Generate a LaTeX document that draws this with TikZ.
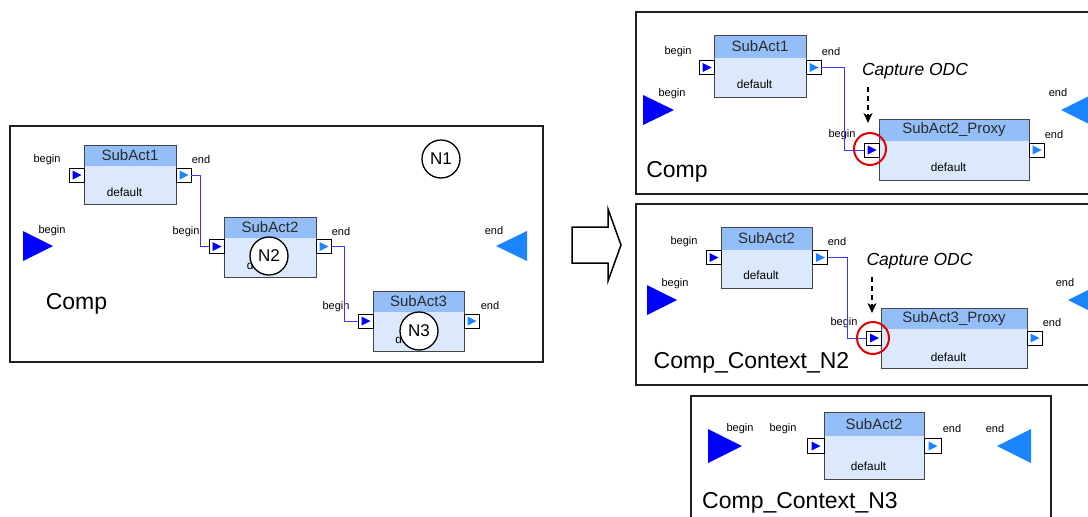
\documentclass[tikz,border=0pt]{standalone}
\usepackage{fontspec}
\setmainfont{Liberation Sans}
\usetikzlibrary{arrows.meta}
\definecolor{hdr}{HTML}{93BEF8}
\definecolor{bdy}{HTML}{DCE9FC}
\definecolor{inblue}{HTML}{0000FF}
\definecolor{outblue}{HTML}{1A85FF}
\definecolor{wireblue}{HTML}{3838FF}
\definecolor{bordergray}{HTML}{454545}
\definecolor{ttlgray}{HTML}{2A2A2A}
\definecolor{hlred}{HTML}{E00000}
\tikzset{
  blk/.style={draw=bordergray, line width=1pt, fill=bdy, inner sep=0pt, rectangle},
  porta/.style={draw=black, line width=0.9pt, fill=white, inner sep=0pt, minimum width=15, minimum height=14},
  lbl/.style={font=\fontsize{11}{11}\selectfont, inner sep=0pt},
  ttl/.style={font=\fontsize{15}{15}\selectfont, text=ttlgray, inner sep=0pt},
  deflt/.style={font=\fontsize{11.8}{11.8}\selectfont, inner sep=0pt},
  bigtxt/.style={font=\fontsize{23}{23}\selectfont, inner sep=0pt},
  capt/.style={font=\fontsize{17.5}{17.5}\selectfont\itshape, inner sep=0pt},
  circ/.style={circle, draw=black, line width=1.3pt, fill=white, minimum size=38, inner sep=0pt, font=\fontsize{17}{17}\selectfont},
  hl/.style={circle, draw=hlred, line width=2pt, minimum size=32, inner sep=0pt},
  wire/.style={draw=wireblue, line width=0.9pt},
  frm/.style={draw=black!88, line width=2pt},
  odc/.style={draw=black, line width=1.4pt, dash pattern=on 5pt off 4pt, -{Stealth[length=10pt,width=9pt,inset=3pt]}},
}
% block: name, x1, y1, x2, y2, header bottom, title, default y
\newcommand{\actblk}[8]{%
  \node[blk, minimum width={#4-#2}, minimum height={#5-#3}] (#1) at ({(#2+#4)/2},{(#3+#5)/2}) {};
  \fill[hdr] (#2,#3) rectangle (#4,#6);
  \draw[bordergray, line width=1pt] (#2,#3) rectangle (#4,#5);
  \node[ttl] (#1t) at ({(#2+#4)/2},{(#3+#6)/2}) {#7};
  \node[deflt] (#1d) at ({(#2+#4)/2-5.5},#8) {default};
}
% port: name, cx, cy, colour, extra options
\newcommand{\prt}[5]{%
  \node[porta, #5] (#1) at (#2,#3) {};
  \fill[#4] ({#2-4},{#3-4.5}) -- ({#2+5},#3) -- ({#2-4},{#3+4.5}) -- cycle;
}
\begin{document}
\begin{tikzpicture}[x=1pt,y=-1pt]
\useasboundingbox (0,0) rectangle (1088,517);
\clip (0,0) rectangle (1088,517);
\fill[white] (0,0) rectangle (1088,517);

% ---------------- left panel ----------------
\draw[frm] (10,126) rectangle (543,362);
\actblk{sa1}{84}{145}{176}{204}{166}{SubAct1}{192}
\prt{sa1i}{76.5}{175}{inblue}{}
\prt{sa1o}{183.5}{175}{outblue}{}
\node[lbl] (sa1ib) at (47,160) {begin};
\node[lbl] (sa1oe) at (201,160) {end};
\actblk{sa2}{224}{217}{316}{277}{238}{SubAct2}{265}
\prt{sa2i}{216.5}{246.5}{inblue}{}
\prt{sa2o}{323.5}{246.5}{outblue}{}
\node[lbl] (sa2ib) at (186,232) {begin};
\node[lbl] (sa2oe) at (341,232) {end};
\actblk{sa3}{373}{291}{464}{351}{312}{SubAct3}{339}
\prt{sa3i}{365.5}{321}{inblue}{}
\prt{sa3o}{471.5}{321}{outblue}{}
\node[lbl] (sa3ib) at (336,307) {begin};
\node[lbl] (sa3oe) at (490,306) {end};
\draw[wire] (sa1o.east) -- ++(9,0) |- (sa2i.west);
\draw[wire] (sa2o.east) -- ++(13,0) |- (sa3i.west);
\fill[inblue] (23,231) -- (53,246) -- (23,261) -- cycle;
\node[lbl] (lbeg) at (52,231) {begin};
\fill[outblue] (527,231) -- (496,246) -- (527,261) -- cycle;
\node[lbl] (lend) at (494,231) {end};
\node[bigtxt] (lcomp) at (76.5,304) {Comp};
\node[circ] (n1) at (441,159) {N1};
\node[circ] (n2) at (269,256) {N2};
\node[circ] (n3) at (419,331) {N3};

% ---------------- block arrow ----------------
\draw[line width=1.5pt, line join=miter] (572,227) -- (608,227) -- (608,209) -- (621,245) -- (608,281) -- (608,263) -- (572,263) -- cycle;

% ---------------- top right panel ----------------
\draw[frm] (1095,12) -- (636,12) -- (636,194) -- (1095,194);
\actblk{ta1}{714}{35}{806}{97}{58}{SubAct1}{84}
\prt{ta1i}{706.5}{67.5}{inblue}{}
\prt{ta1o}{813.5}{67.5}{outblue}{}
\node[lbl] (ta1ib) at (678,52) {begin};
\node[lbl] (ta1oe) at (831,52) {end};
\fill[inblue] (643,95) -- (674,110) -- (643,125) -- cycle;
\node[lbl] (tbeg) at (672,94) {begin};
\fill[outblue] (1091,95) -- (1061,110) -- (1091,125) -- cycle;
\node[lbl] (tend) at (1058,93) {end};
\actblk{tp}{879}{119}{1029}{180}{141}{SubAct2\_Proxy}{167}
\prt{tpi}{871.5}{150}{inblue}{}
\prt{tpo}{1036.5}{150}{outblue}{}
\node[lbl] (tpib) at (842,135) {begin};
\node[lbl] (tpoe) at (1054,135) {end};
\draw[wire] (ta1o.east) -- ++(23,0) |- (tpi.west);
\node[hl] (tr1) at (870,149) {};
\node[capt] (tc1) at (915,71) {Capture ODC};
\coordinate (ta) at (868,87);
\coordinate (tb) at (868,123);
\draw[odc] (ta) -- (tb);
\node[bigtxt] (tcomp) at (677,172) {Comp};

% ---------------- middle right panel ----------------
\draw[frm] (1095,204) -- (636,204) -- (636,385) -- (1095,385);
\actblk{ma2}{721}{227}{812}{288}{250}{SubAct2}{275}
\prt{ma2i}{713.5}{257.5}{inblue}{}
\prt{ma2o}{820}{257.5}{outblue}{}
\node[lbl] (ma2ib) at (684,242) {begin};
\node[lbl] (ma2oe) at (837,242) {end};
\fill[inblue] (647,285) -- (677,300) -- (647,315) -- cycle;
\node[lbl] (mbeg) at (675,284) {begin};
\fill[outblue] (1098,285) -- (1068,300) -- (1098,315) -- cycle;
\node[lbl] (mend) at (1065,283) {end};
\actblk{mp}{881}{308}{1027}{368}{329}{SubAct3\_Proxy}{357}
\prt{mpi}{874}{338}{inblue}{}
\prt{mpo}{1034.5}{338}{outblue}{}
\node[lbl] (mpib) at (844,323) {begin};
\node[lbl] (mpoe) at (1052,323) {end};
\draw[wire] (ma2o.east) -- ++(19.5,0) |- (mpi.west);
\node[hl] (mr1) at (873,338) {};
\node[capt] (mc1) at (919.5,261) {Capture ODC};
\coordinate (ma) at (872,277);
\coordinate (mb) at (872,313);
\draw[odc] (ma) -- (mb);
\node[bigtxt] (mcomp) at (751.5,363) {Comp\_Context\_N2};

% ---------------- bottom right panel ----------------
\draw[frm] (691,525) -- (691,396) -- (1051,396) -- (1051,525);
\fill[inblue] (708,429) -- (742,446) -- (708,463) -- cycle;
\node[lbl] (bbeg) at (740,429) {begin};
\actblk{ba2}{824}{412}{924}{479}{436}{SubAct2}{466}
\prt{ba2i}{815.5}{446}{inblue}{minimum width=17, minimum height=15}
\prt{ba2o}{932.5}{446}{outblue}{minimum width=17, minimum height=15}
\node[lbl] (ba2ib) at (783,429) {begin};
\node[lbl] (ba2oe) at (952,429) {end};
\fill[outblue] (1031,429) -- (997,446) -- (1031,463) -- cycle;
\node[lbl] (bend) at (995,429) {end};
\node[bigtxt] (bcomp) at (800,503) {Comp\_Context\_N3};
\end{tikzpicture}
\end{document}
